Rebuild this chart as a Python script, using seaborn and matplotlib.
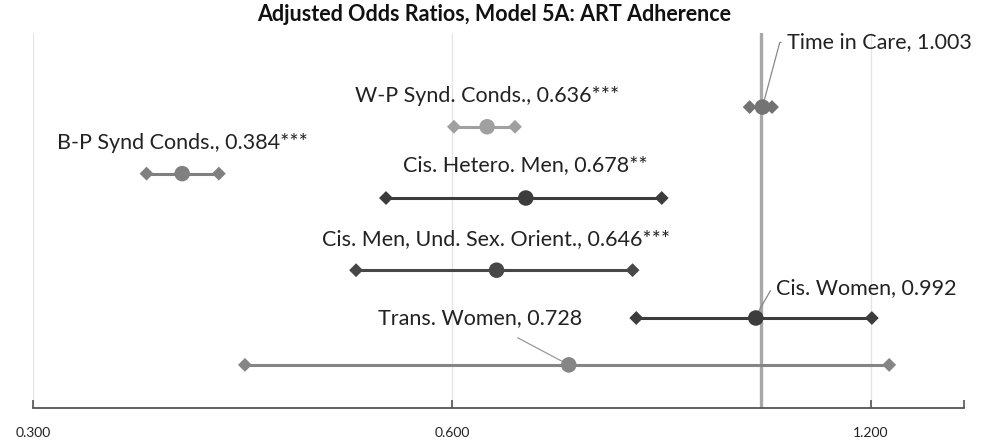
import numpy as np
import pandas as pd
import matplotlib
matplotlib.use("Agg")
import matplotlib.pyplot as plt
import matplotlib.ticker as mticker
import seaborn as sns

# data
labels = ["Time in Care, 1.003", "W-P Synd. Conds., 0.636***", "B-P Synd Conds., 0.384***",
          "Cis. Hetero. Men, 0.678**", "Cis. Men, Und. Sex. Orient., 0.646***",
          "Cis. Women, 0.992", "Trans. Women, 0.728"]
odds = [1.003, 0.636, 0.384, 0.678, 0.646, 0.992, 0.728]
lower = [0.982, 0.602, 0.362, 0.538, 0.512, 0.814, 0.426]
upper = [1.019, 0.666, 0.408, 0.849, 0.809, 1.202, 1.237]
row_y = [6.42, 6.0, 5.0, 4.48, 2.94, 1.92, 0.92]
shade = ["#737373", "#a0a0a0", "#808080", "#3c3c3c", "#474747", "#3c3c3c", "#858585"]
tick_vals = [0.3, 0.6, 1.2]

df = pd.DataFrame({"label": labels, "odds": odds, "lower": lower, "upper": upper,
                   "y": row_y, "color": shade})
pal = dict(zip(labels, shade))

sns.set_theme(style="white")
plt.rcParams['font.family'] = ['Lato', 'DejaVu Sans']

fig = plt.figure(figsize=(9.88, 4.43), dpi=100)
ax = fig.add_axes([0.0334, 0.079, 0.9423, 0.8465])
ax.set_xscale("log", base=2)
ax.set_xlim(0.3, 1.4)
ax.set_ylim(0, 8)

# grid + reference line at 1
for t in tick_vals:
    ax.axvline(t, color="#e3e3e3", lw=0.9, zorder=0)
ax.axvline(1.0, color="#a8a8a8", lw=2.4, zorder=1)

# CI lines and markers
for _, r in df.iterrows():
    ax.plot([r["lower"], r["upper"]], [r["y"], r["y"]], color=r["color"], lw=2.2, zorder=2)
sns.scatterplot(data=df, x="lower", y="y", hue="label", palette=pal,
                marker="D", s=50, edgecolor="none", legend=False, ax=ax, zorder=3)
sns.scatterplot(data=df, x="upper", y="y", hue="label", palette=pal,
                marker="D", s=50, edgecolor="none", legend=False, ax=ax, zorder=3)
sns.scatterplot(data=df, x="odds", y="y", hue="label", palette=pal,
                marker="o", s=125, edgecolor="none", legend=False, ax=ax, zorder=4)

# labels
fs = 15.5
tc = "#222222"
ax.text(0.636, 6.66, labels[1], ha="center", va="center", fontsize=fs, color=tc)
ax.text(0.384, 5.66, labels[2], ha="center", va="center", fontsize=fs, color=tc)
ax.text(0.678, 5.18, labels[3], ha="center", va="center", fontsize=fs, color=tc)
ax.text(0.646, 3.6, labels[4], ha="center", va="center", fontsize=fs, color=tc)
ax.annotate(labels[0], xy=(1.003, 6.42), xytext=(1.045, 7.8), ha="left", va="center",
            fontsize=fs, color=tc,
            arrowprops=dict(arrowstyle="-", color="#888888", lw=0.9,
                            connectionstyle="angle,angleA=0,angleB=75,rad=0"))
ax.annotate(labels[5], xy=(0.992, 1.96), xytext=(1.025, 2.55), ha="left", va="center",
            fontsize=fs, color=tc,
            arrowprops=dict(arrowstyle="-", color="#888888", lw=0.9,
                            connectionstyle="angle,angleA=0,angleB=60,rad=0"))
ax.annotate(labels[6], xy=(0.728, 0.92), xytext=(0.629, 1.92), ha="center", va="center",
            fontsize=fs, color=tc,
            arrowprops=dict(arrowstyle="-", color="#999999", lw=0.9, shrinkA=10, shrinkB=0))

# axes styling
for s in ["top", "right", "left"]:
    ax.spines[s].set_visible(False)
ax.spines["bottom"].set_color("#555555")
ax.spines["bottom"].set_linewidth(1.3)
ax.set_yticks([])
ax.xaxis.set_major_locator(mticker.FixedLocator(tick_vals))
ax.xaxis.set_major_formatter(mticker.FixedFormatter([f"{v:.3f}" for v in tick_vals]))
ax.xaxis.set_minor_locator(mticker.FixedLocator([1.4]))
ax.xaxis.set_minor_formatter(mticker.NullFormatter())
ax.tick_params(axis="x", which="both", direction="in", length=6, width=1.2, color="#555555",
               bottom=True, labelsize=10, pad=14, labelcolor="#222222")
ax.set_xlabel("")
ax.set_ylabel("")

fig.text(0.5, 0.968, "Adjusted Odds Ratios, Model 5A: ART Adherence", ha="center", va="center",
         fontsize=15.5, fontweight="bold", color="#111111")

fig.savefig("out.png", dpi=100)
